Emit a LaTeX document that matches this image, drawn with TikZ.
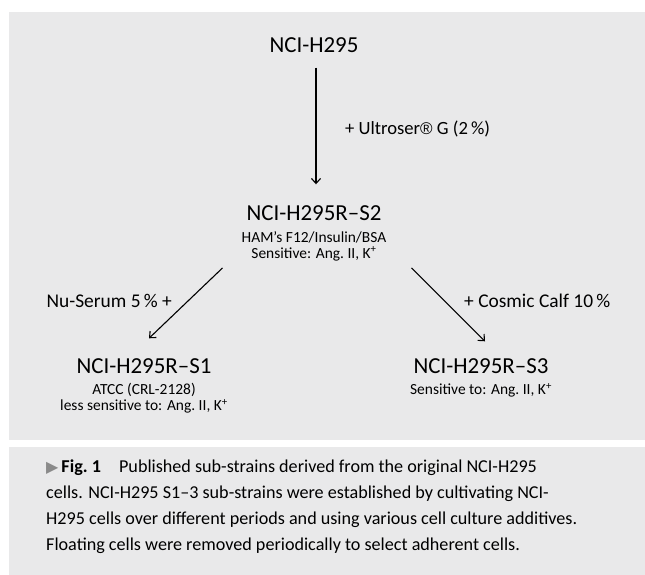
\documentclass[tikz,border=0pt]{standalone}
\usepackage{fontspec}
\setmainfont{Carlito}
\newfontfamily\symfont{DejaVu Sans}
\newfontfamily\regfont{Liberation Sans}
\usetikzlibrary{arrows.meta,calc}
\definecolor{panelgray}{HTML}{E9E9EA}
\definecolor{markgray}{HTML}{8A8A8A}

\begin{document}
\begin{tikzpicture}
	[x=1bp,y=-1bp,>={Straight Barb[length=5bp,width=9bp]},
		conn/.style={->,line width=1.1bp},
		strain node/.style={inner sep=0pt,font=\fontsize{23}{26}\selectfont},
		info node/.style={inner sep=0pt,align=center,font=\fontsize{15.5}{16}\selectfont},
		medium node/.style={inner sep=0pt,font=\fontsize{19.5}{22}\selectfont}]

	\useasboundingbox (0,0) rectangle (645,575);
	\fill[white] (0,0) rectangle (645,575);
	\fill[panelgray] (9,12) rectangle (645,440);
	\fill[panelgray] (9,447) rectangle (645,575);

	\node[strain node] (H) at (314,45) {NCI-H295};
	\node[strain node] (S2) at (314,213) {NCI-H295R--S2};
	\node[info node] (S2info) at (314,246) {HAM’s F12/Insulin/BSA\\ Sensitive: Ang.~II, K\textsuperscript{+}};
	\node[strain node] (S1) at (144,366) {NCI-H295R--S1};
	\node[info node] (S1info) at (144,398) {ATCC (CRL-2128)\\ less sensitive to: Ang.~II, K\textsuperscript{+}};
	\node[strain node] (S3) at (481,366) {NCI-H295R--S3};
	\node[info node] (S3info) at (481,390) {Sensitive to: Ang.~II, K\textsuperscript{+}};

	\node[medium node,anchor=west,font=\fontsize{18.7}{21}\selectfont] (ultro) at (345,129) {+ Ultroser{\regfont\fontsize{17}{17}\selectfont ®} G (2\,\%)};
	\node[medium node,anchor=east] (nu) at (172,301) {Nu-Serum 5\,\% +};
	\node[medium node,anchor=west] (cosmic) at (464,301) {+ Cosmic Calf 10\,\%};

	\path[conn]
	($(H.south)+(2,15)$) edge ($(S2.north)+(2,-21)$)
	($(S2info.south west)+(-19,7)$) edge ($(S1.north)+(5,-20)$)
	($(S2info.south east)+(25,7)$) edge ($(S3.north)+(4,-17)$)
	;

	% caption
	\node[anchor=north west,inner sep=0pt,align=left,font=\fontsize{18.2}{26}\selectfont] (cap) at (46,460)
	{{\symfont\color{markgray}\fontsize{16}{16}\selectfont ▶}\,\textbf{Fig.~1}\hspace{1em}Published sub-strains derived from the original NCI-H295\\
	cells. NCI-H295 S1--3 sub-strains were established by cultivating NCI-\\
	H295 cells over different periods and using various cell culture additives.\\
	Floating cells were removed periodically to select adherent cells.};
\end{tikzpicture}
\end{document}
